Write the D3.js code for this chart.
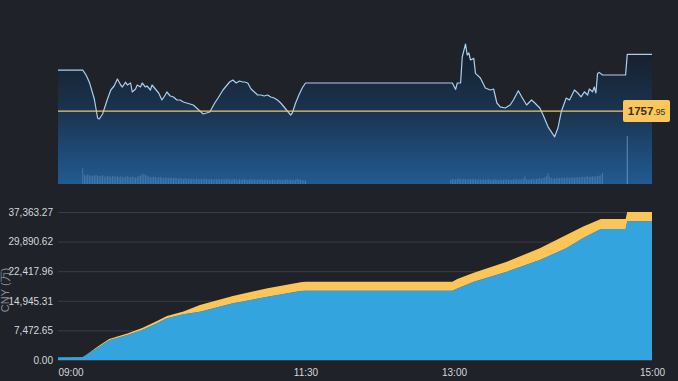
<!doctype html>
<html lang="en">
  <head>
    <meta charset="UTF-8" />
    <title>Intraday price and cumulative turnover</title>
    <script src="https://d3js.org/d3.v7.min.js"></script>
    <style>
      body {
        margin: 0;
        background: #1f2229;
      }
      svg {
        display: block;
        font-family: 'Liberation Sans', Arial, sans-serif;
      }
      .axis text {
        fill: #d5d8de;
        font-size: 10px;
      }
      .axis .tick line {
        stroke: #3a3d45;
      }
      .axis path {
        display: none;
      }
    </style>
  </head>
  <body>
    <svg id="chart" width="678" height="381"></svg>
    <script>
      // price line (time, price)
      const priceSeries = [
        ['09:00', 1778.4], ['09:15', 1778.4], ['09:17', 1776.0], ['09:19', 1772.4],
        ['09:22', 1764.0], ['09:24', 1754.5], ['09:25', 1754.0], ['09:27', 1756.5],
        ['09:30', 1764.0], ['09:32', 1768.5], ['09:34', 1770.5], ['09:36', 1774.0],
        ['09:38', 1771.0], ['09:39', 1770.0], ['09:41', 1772.4], ['09:42', 1771.0],
        ['09:44', 1772.0], ['09:45', 1767.5], ['09:47', 1769.0], ['09:48', 1771.0],
        ['09:50', 1770.0], ['09:51', 1772.0], ['09:53', 1770.0], ['09:54', 1770.5],
        ['09:56', 1768.5], ['09:57', 1771.0], ['09:59', 1769.0], ['10:01', 1767.0],
        ['10:03', 1763.5], ['10:05', 1766.0], ['10:06', 1767.5], ['10:08', 1765.5],
        ['10:10', 1765.0], ['10:12', 1763.5], ['10:14', 1763.5], ['10:16', 1762.5],
        ['10:18', 1762.0], ['10:20', 1761.5], ['10:22', 1761.0], ['10:24', 1759.5],
        ['10:26', 1758.0], ['10:28', 1756.5], ['10:30', 1757.0], ['10:32', 1757.5],
        ['10:33', 1759.0], ['10:35', 1762.0], ['10:37', 1764.5], ['10:40', 1768.5],
        ['10:42', 1770.5], ['10:44', 1772.5], ['10:46', 1773.5], ['10:48', 1772.0],
        ['10:50', 1773.0], ['10:52', 1772.5], ['10:53', 1772.5], ['10:55', 1772.0],
        ['10:57', 1769.0], ['10:59', 1767.5], ['11:01', 1766.0], ['11:03', 1766.0],
        ['11:05', 1765.5], ['11:07', 1766.0], ['11:09', 1765.0], ['11:11', 1764.5],
        ['11:13', 1763.5], ['11:15', 1762.0], ['11:17', 1760.0], ['11:19', 1758.0],
        ['11:21', 1756.0], ['11:22', 1757.0], ['11:24', 1762.0], ['11:26', 1766.0],
        ['11:28', 1769.5], ['11:30', 1772.0], ['12:59', 1772.0], ['13:01', 1768.8],
        ['13:02', 1772.0], ['13:04', 1772.0], ['13:05', 1785.0], ['13:07', 1791.5],
        ['13:08', 1786.0], ['13:09', 1787.0], ['13:10', 1783.5], ['13:12', 1784.3],
        ['13:13', 1776.8], ['13:16', 1774.5], ['13:19', 1769.5], ['13:22', 1768.5],
        ['13:24', 1769.0], ['13:26', 1762.0], ['13:28', 1760.1], ['13:31', 1759.5],
        ['13:34', 1761.0], ['13:36', 1763.5], ['13:39', 1768.1], ['13:41', 1765.1],
        ['13:44', 1761.0], ['13:47', 1763.5], ['13:49', 1762.0], ['13:52', 1759.5],
        ['13:54', 1756.0], ['13:57', 1750.1], ['14:01', 1745.1], ['14:03', 1749.5],
        ['14:05', 1757.6], ['14:08', 1764.5], ['14:10', 1763.5], ['14:13', 1768.5],
        ['14:15', 1767.0], ['14:17', 1765.1], ['14:19', 1767.6], ['14:21', 1766.0],
        ['14:22', 1769.0], ['14:24', 1767.6], ['14:25', 1770.0], ['14:26', 1767.0],
        ['14:27', 1776.8], ['14:28', 1777.3], ['14:30', 1776.0], ['14:44', 1776.0],
        ['14:45', 1786.3], ['15:00', 1786.3],
      ];
      const refPrice = 1757.95;

      // per-minute volume
      const volMorningStart = '09:15';
      const volMorning = [
        330, 190, 175, 200, 185, 170, 180, 165, 190, 175, 160, 170, 185, 160, 150, 175, 165,
        155, 170, 160, 150, 165, 145, 160, 150, 140, 155, 165, 150, 140, 160, 145, 135, 150,
        165, 180, 200, 215, 190, 175, 160, 150, 140, 155, 145, 130, 140, 150, 135, 125, 140,
        130, 120, 135, 125, 115, 130, 120, 110, 125, 115, 105, 120, 110, 100, 115, 105, 110,
        100, 115, 105, 95, 110, 100, 120, 105, 95, 110, 100, 90, 105, 95, 110, 100, 90,
        105, 95, 100, 110, 95, 90, 100, 105, 95, 85, 100, 90, 95, 105, 90, 85, 100,
        95, 90, 100, 85, 95, 90, 100, 85, 90, 95, 80, 90, 85, 95, 90, 80, 85,
        95, 85, 90, 80, 100, 90, 85, 95, 80, 90, 85, 110, 95, 90, 80, 85, 70,
      ];
      const volAfternoonStart = '12:58';
      const volAfternoon = [
        90, 110, 100, 95, 105, 115, 100, 95, 110, 100, 90, 105, 95, 100, 110, 95,
        90, 100, 95, 85, 100, 90, 95, 105, 90, 85, 95, 100, 90, 80, 95, 90,
        85, 100, 90, 95, 85, 90, 100, 95, 105, 90, 95, 100, 110, 165, 100, 95,
        90, 100, 110, 95, 105, 115, 120, 110, 125, 140, 160, 230, 150, 120, 110, 125,
        115, 130, 120, 125, 135, 120, 130, 140, 125, 135, 145, 130, 140, 150, 135, 145,
        150, 140, 155, 160, 145, 155, 165, 150, 160, 170, 175, 185, 230,
      ];
      const volClose = [['14:45', 1000]];

      // cumulative turnover, two stacked parts
      const cumTimes = [
        '09:00', '09:15', '09:18', '09:25', '09:31', '09:42', '09:51', '10:00', '10:06',
        '10:16', '10:26', '10:46', '11:07', '11:27', '11:30', '12:59', '13:02', '13:12',
        '13:32', '13:52', '14:08', '14:18', '14:29', '14:44', '14:45', '15:00',
      ];
      const cumBlue = [
        700, 700, 1500, 3357, 5000, 6311, 7573, 9265, 10527,
        11537, 12193, 14314, 15980, 17419, 17495, 17495, 18050, 19767,
        22291, 25245, 28198, 30723, 33071, 33071, 35000, 35000,
      ];
      const cumYellow = [
        0, 50, 100, 303, 300, 379, 507, 580, 583,
        707, 1692, 1843, 2120, 2196, 2272, 2272, 2398, 2272,
        2525, 2953, 3358, 2928, 2524, 2524, 2363.27, 2363.27,
      ];
      const xTicks = ['09:00', '11:30', '13:00', '15:00'];
      const yTitle = 'CNY (万)';

      const parse = d3.timeParse('%H:%M');
      const svg = d3.select('#chart');
      const left = 58;
      const right = 652;
      const topPanel = { top: 40, bottom: 184 };
      const botPanel = { top: 212, bottom: 360 };

      const x = d3
        .scaleTime()
        .domain([parse('09:00'), parse('15:00')])
        .range([left, right]);

      // ---------- top panel ----------
      const yPrice = d3
        .scaleLinear()
        .domain([1721.5, 1793.5])
        .range([topPanel.bottom, topPanel.top]);
      const yVol = d3
        .scaleLinear()
        .domain([0, 3000])
        .range([topPanel.bottom, topPanel.top]);

      const defs = svg.append('defs');
      const grad = defs
        .append('linearGradient')
        .attr('id', 'priceFill')
        .attr('gradientUnits', 'userSpaceOnUse')
        .attr('x1', 0)
        .attr('y1', 44)
        .attr('x2', 0)
        .attr('y2', topPanel.bottom);
      grad.append('stop').attr('offset', 0).attr('stop-color', '#151d28');
      grad.append('stop').attr('offset', 0.5).attr('stop-color', '#1b3552');
      grad.append('stop').attr('offset', 1).attr('stop-color', '#215b92');

      const prices = priceSeries.map((d) => ({ t: parse(d[0]), v: d[1] }));

      svg
        .append('path')
        .datum(prices)
        .attr('fill', 'url(#priceFill)')
        .attr(
          'd',
          d3
            .area()
            .x((d) => x(d.t))
            .y0(topPanel.bottom)
            .y1((d) => yPrice(d.v)),
        );

      const vols = [];
      volMorning.forEach((v, i) =>
        vols.push({ t: d3.timeMinute.offset(parse(volMorningStart), i), v }),
      );
      volAfternoon.forEach((v, i) =>
        vols.push({ t: d3.timeMinute.offset(parse(volAfternoonStart), i), v }),
      );
      volClose.forEach((d) => vols.push({ t: parse(d[0]), v: d[1] }));

      svg
        .append('g')
        .selectAll('rect')
        .data(vols)
        .join('rect')
        .attr('x', (d) => x(d.t) - 0.5)
        .attr('y', (d) => yVol(d.v))
        .attr('width', 1)
        .attr('height', (d) => topPanel.bottom - yVol(d.v))
        .attr('fill', (d) =>
          d.v > 500 ? 'rgba(170,205,235,0.5)' : 'rgba(150,195,235,0.3)',
        );

      svg
        .append('path')
        .datum(prices)
        .attr('fill', 'none')
        .attr('stroke', '#a9cfeb')
        .attr('stroke-width', 1.2)
        .attr('stroke-linejoin', 'round')
        .attr(
          'd',
          d3
            .line()
            .x((d) => x(d.t))
            .y((d) => yPrice(d.v)),
        );

      // reference price line + label
      const labelX = 623;
      svg
        .append('line')
        .attr('x1', left)
        .attr('x2', labelX)
        .attr('y1', yPrice(refPrice))
        .attr('y2', yPrice(refPrice))
        .attr('stroke', '#ecc96a')
        .attr('stroke-width', 1.2);
      svg
        .append('rect')
        .attr('x', labelX)
        .attr('y', yPrice(refPrice) - 11)
        .attr('width', 47)
        .attr('height', 22)
        .attr('rx', 2)
        .attr('fill', '#fbc65b');
      const parts = d3.format('.2f')(refPrice).split('.');
      const lbl = svg
        .append('text')
        .attr('x', labelX + 23.5)
        .attr('y', yPrice(refPrice) + 4)
        .attr('text-anchor', 'middle')
        .attr('fill', '#3a2f1c');
      lbl
        .append('tspan')
        .attr('font-size', '11.5px')
        .attr('font-weight', 'bold')
        .text(parts[0]);
      lbl
        .append('tspan')
        .attr('font-size', '8.5px')
        .text('.' + parts[1]);

      // ---------- bottom panel ----------
      const cumRows = cumTimes.map((t, i) => ({
        t: parse(t),
        blue: cumBlue[i],
        yellow: cumYellow[i],
      }));
      const stack = d3.stack().keys(['blue', 'yellow'])(cumRows);
      const maxTotal = d3.max(cumRows, (d) => d.blue + d.yellow);

      const yCum = d3
        .scaleLinear()
        .domain([0, maxTotal])
        .range([botPanel.bottom, botPanel.top]);

      svg
        .append('g')
        .attr('class', 'axis')
        .attr('transform', 'translate(' + left + ',0)')
        .call(
          d3
            .axisLeft(yCum)
            .tickValues(d3.range(6).map((i) => (maxTotal * i) / 5))
            .tickFormat(d3.format(',.2f'))
            .tickSize(-(right - left))
            .tickPadding(5),
        );

      const colors = { blue: '#33a4de', yellow: '#fbc55a' };
      svg
        .append('g')
        .selectAll('path')
        .data(stack)
        .join('path')
        .attr('fill', (d) => colors[d.key])
        .attr(
          'd',
          d3
            .area()
            .x((d) => x(d.data.t))
            .y0((d) => yCum(d[0]))
            .y1((d) => yCum(d[1])),
        );

      const xAxis = svg
        .append('g')
        .attr('class', 'axis')
        .attr('transform', 'translate(0,' + botPanel.bottom + ')')
        .call(
          d3
            .axisBottom(x)
            .tickValues(xTicks.map(parse))
            .tickFormat(d3.timeFormat('%H:%M'))
            .tickSize(0)
            .tickPadding(9),
        );
      xAxis
        .selectAll('text')
        .filter((d, i) => i === 0)
        .attr('text-anchor', 'start');

      svg
        .append('text')
        .attr('transform', 'translate(9,290) rotate(-90)')
        .attr('text-anchor', 'middle')
        .attr('fill', '#8b9099')
        .attr('font-size', '11px')
        .text(yTitle);
    </script>
  </body>
</html>
